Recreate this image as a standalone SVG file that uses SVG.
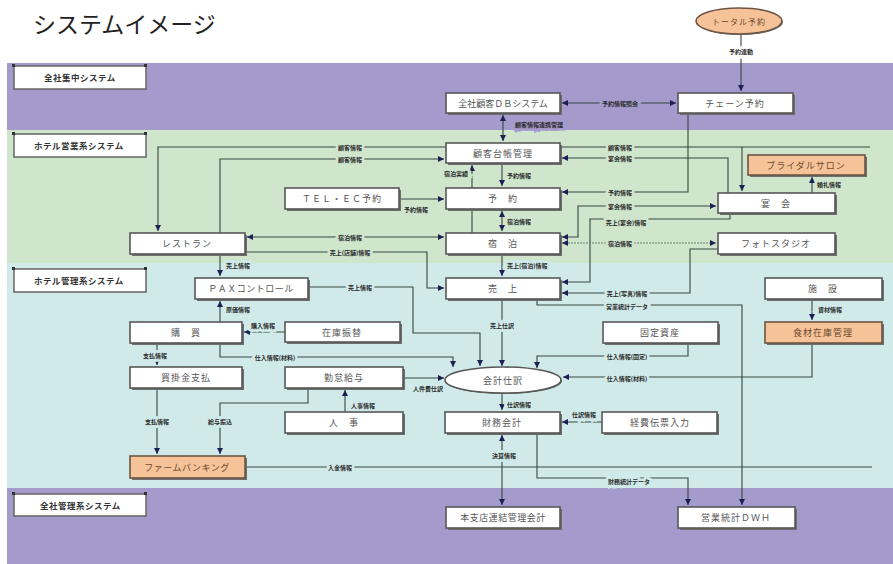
<svg xmlns="http://www.w3.org/2000/svg" width="893" height="564" viewBox="0 0 893 564">
<style>
.bp{fill:#a49acb}.bg{fill:#cfe6cd}.bc{fill:#d0eae9}
.title{font-family:"Noto Sans CJK JP","Noto Sans",sans-serif;font-size:23px;fill:#222}
.bl rect.b{fill:#fff;stroke:#666;stroke-width:1.5}
.bl rect.m{fill:#333}
.bl text{font-family:"Noto Sans CJK JP",sans-serif;font-size:8.5px;font-weight:bold;fill:#333;letter-spacing:0.5px}
.node rect.s,.node ellipse.s{fill:#6e6e6e}
.node rect.f,.node ellipse.f{fill:#fff;stroke:#575757;stroke-width:1.6}
.node.or rect.f,.node.or ellipse.f{fill:#f6c297;stroke:#6b5545}
.node text{font-family:"Noto Sans CJK JP",sans-serif;font-size:9px;fill:#555;text-anchor:middle;dominant-baseline:central;letter-spacing:1px}
.conn path{fill:none;stroke:#364640;stroke-width:1.1}
.conn path.d{stroke:#6c8070;stroke-dasharray:2 1}
.lbl{font-family:"Noto Sans CJK JP",sans-serif;font-size:6px;font-weight:bold;fill:#2a2a2a;text-anchor:middle;dominant-baseline:central;paint-order:stroke;stroke-width:5px}
.lg{stroke:#cfe6cd}.lc{stroke:#d0eae9}.lp{stroke:#a49acb}.lw{stroke:#fff}
.st{text-anchor:start}.en{text-anchor:end}
</style>
<defs>
<marker id="ah" viewBox="0 0 6 6" refX="6" refY="3" markerWidth="6" markerHeight="6" markerUnits="userSpaceOnUse" orient="auto-start-reverse">
<path d="M0,0 L6,3 L0,6 z" fill="#1d1f55"/>
</marker>
</defs>

<text class="title" x="33" y="33">システムイメージ</text>

<g id="bands">
<rect class="bp" x="7" y="63" width="886" height="67"/>
<rect class="bg" x="7" y="130" width="886" height="133"/>
<rect class="bc" x="7" y="263" width="886" height="225"/>
<rect class="bp" x="7" y="488" width="886" height="76"/>
</g>

<g id="band-labels" class="bl">
<g id="bl1"><rect class="b" x="14" y="66" width="132" height="23"/><rect class="m" x="12" y="64" width="3" height="3"/><rect class="m" x="144" y="64" width="3" height="3"/><text x="44" y="81">全社集中システム</text></g>
<g id="bl2"><rect class="b" x="14" y="134" width="132" height="23"/><rect class="m" x="12" y="132" width="3" height="3"/><rect class="m" x="144" y="132" width="3" height="3"/><text x="34" y="149">ホテル営業系システム</text></g>
<g id="bl3"><rect class="b" x="14" y="269" width="132" height="23"/><rect class="m" x="12" y="267" width="3" height="3"/><rect class="m" x="144" y="267" width="3" height="3"/><text x="34" y="284">ホテル管理系システム</text></g>
<g id="bl4"><rect class="b" x="14" y="494" width="132" height="22"/><rect class="m" x="12" y="492" width="3" height="3"/><rect class="m" x="144" y="492" width="3" height="3"/><text x="40" y="509">全社管理系システム</text></g>
</g>

<g id="connectors" class="conn">
<path d="M741,35 V91" marker-end="url(#ah)"/>
<path d="M562,103 H676" marker-start="url(#ah)" marker-end="url(#ah)"/>
<path d="M503,115 V141" marker-start="url(#ah)" marker-end="url(#ah)"/>
<path d="M446,147 H158 V231" marker-end="url(#ah)"/>
<path d="M220,233 V159 H444" marker-end="url(#ah)"/>
<path d="M400,199 H444" marker-end="url(#ah)"/>
<path d="M502,163 V186" marker-end="url(#ah)"/>
<path d="M472,233 V165" marker-end="url(#ah)"/>
<path d="M502,211 V231" marker-start="url(#ah)" marker-end="url(#ah)"/>
<path d="M247,237 H444" marker-start="url(#ah)" marker-end="url(#ah)"/>
<path d="M246,252 H427 V288 H444" marker-end="url(#ah)"/>
<path d="M562,147 H870 M742,147 V191" marker-end="url(#ah)"/>
<path d="M728,193 V158 H562" marker-end="url(#ah)"/>
<path d="M688,113 V192 H562" marker-end="url(#ah)"/>
<path d="M562,237 H578 V206 H716" marker-start="url(#ah)" marker-end="url(#ah)"/>
<path d="M730,213 V219 H590 V282 H562" marker-end="url(#ah)"/>
<path d="M812,193 V177" marker-end="url(#ah)"/>
<path class="d" d="M562,243 H716" marker-start="url(#ah)" marker-end="url(#ah)"/>
<path d="M718,249 H690 V293 H562" marker-end="url(#ah)"/>
<path d="M502,254 V276" marker-end="url(#ah)"/>
<path d="M220,254 V276" marker-end="url(#ah)"/>
<path d="M309,287 H413 V333 H480 V366" marker-end="url(#ah)"/>
<path d="M220,322 V301" marker-end="url(#ah)"/>
<path d="M285,332 H244" marker-end="url(#ah)"/>
<path d="M220,343 V357 H453 V367" marker-end="url(#ah)"/>
<path d="M157,343 V365" marker-end="url(#ah)"/>
<path d="M157,388 V454" marker-end="url(#ah)"/>
<path d="M308,388 V403 H220 V454" marker-end="url(#ah)"/>
<path d="M345,412 V390" marker-end="url(#ah)"/>
<path d="M404,378 H444" marker-end="url(#ah)"/>
<path d="M502,300 V366" marker-end="url(#ah)"/>
<path d="M537,300 V305 H742 V505" marker-end="url(#ah)"/>
<path d="M688,343 V356 H537 V368" marker-end="url(#ah)"/>
<path d="M812,343 V377 H563" marker-end="url(#ah)"/>
<path d="M812,300 V320" marker-end="url(#ah)"/>
<path d="M502,393 V410" marker-end="url(#ah)"/>
<path d="M602,422 H562" marker-end="url(#ah)"/>
<path d="M502,435 V505" marker-start="url(#ah)" marker-end="url(#ah)"/>
<path d="M537,433 V478 H688 V505" marker-end="url(#ah)"/>
<path d="M245,467 H872"/>
</g>

<g id="connector-labels">
<text class="lbl lw" x="741" y="51">予約連動</text>
<text class="lbl lp" x="620" y="103">予約情報照会</text>
<text class="lbl lp st" x="515" y="124">顧客情報連携管理</text>
<text class="lbl lg" x="350" y="147">顧客情報</text>
<text class="lbl lg" x="350" y="159">顧客情報</text>
<text class="lbl lg" x="416" y="209">予約情報</text>
<text class="lbl lg st" x="507" y="175">予約情報</text>
<text class="lbl lg en" x="468" y="173">宿泊実績</text>
<text class="lbl lg st" x="507" y="221">宿泊情報</text>
<text class="lbl lg" x="350" y="237">宿泊情報</text>
<text class="lbl lg" x="350" y="252">売上(店舗)情報</text>
<text class="lbl lg" x="620" y="147">顧客情報</text>
<text class="lbl lg" x="620" y="158">宴会情報</text>
<text class="lbl lg" x="620" y="192">予約情報</text>
<text class="lbl lg" x="620" y="206">宴会情報</text>
<text class="lbl lg" x="626" y="222">売上(宴会)情報</text>
<text class="lbl lg st" x="817" y="184">婚礼情報</text>
<text class="lbl lg" x="620" y="243">宿泊情報</text>
<text class="lbl lc" x="627" y="293">売上(写真)情報</text>
<text class="lbl lc st" x="507" y="265">売上(宿泊)情報</text>
<text class="lbl lc st" x="226" y="265">売上情報</text>
<text class="lbl lc" x="360" y="287">売上情報</text>
<text class="lbl lc st" x="226" y="309">原価情報</text>
<text class="lbl lc" x="263" y="325">購入情報</text>
<text class="lbl lc" x="275" y="357">仕入情報(材料)</text>
<text class="lbl lc" x="155" y="355">支払情報</text>
<text class="lbl lc" x="157" y="421">支払情報</text>
<text class="lbl lc" x="220" y="421">給与振込</text>
<text class="lbl lc st" x="351" y="405">人事情報</text>
<text class="lbl lc" x="428" y="388">人件費仕訳</text>
<text class="lbl lc" x="502" y="325">売上仕訳</text>
<text class="lbl lc" x="627" y="306">営業統計データ</text>
<text class="lbl lc" x="627" y="356">仕入情報(固定)</text>
<text class="lbl lc" x="627" y="378">仕入情報(材料)</text>
<text class="lbl lc st" x="818" y="309">資材情報</text>
<text class="lbl lc st" x="507" y="404">仕訳情報</text>
<text class="lbl lc" x="584" y="414">仕訳情報</text>
<text class="lbl lc" x="504" y="455">決算情報</text>
<text class="lbl lc" x="629" y="481">財務統計データ</text>
<text class="lbl lc" x="340" y="467">入金情報</text>
</g>

<g id="n-total" class="node or"><ellipse class="s" cx="740" cy="22" rx="43" ry="13"/><ellipse class="f" cx="739" cy="21" rx="43" ry="13"/><text x="739" y="21" style="font-size:8px;fill:#6b4a30">トータル予約</text></g>
<g id="n-db" class="node"><rect class="s" x="448" y="95" width="114" height="20"/><rect class="f" x="446" y="93" width="114" height="20"/><text x="503" y="103" style="letter-spacing:0">全社顧客ＤＢシステム</text></g>
<g id="n-chain" class="node"><rect class="s" x="680" y="95" width="115" height="20"/><rect class="f" x="678" y="93" width="115" height="20"/><text x="735" y="103">チェーン予約</text></g>
<g id="n-kokyaku" class="node"><rect class="s" x="448" y="145" width="114" height="20"/><rect class="f" x="446" y="143" width="114" height="20"/><text x="503" y="153">顧客台帳管理</text></g>
<g id="n-tel" class="node"><rect class="s" x="287" y="190" width="114" height="21"/><rect class="f" x="285" y="188" width="114" height="21"/><text x="342" y="198.5">ＴＥＬ・ＥＣ予約</text></g>
<g id="n-yoyaku" class="node"><rect class="s" x="448" y="190" width="114" height="21"/><rect class="f" x="446" y="188" width="114" height="21"/><text x="503" y="198.5">予　約</text></g>
<g id="n-shuku" class="node"><rect class="s" x="448" y="235" width="114" height="21"/><rect class="f" x="446" y="233" width="114" height="21"/><text x="503" y="243.5">宿　泊</text></g>
<g id="n-rest" class="node"><rect class="s" x="132" y="235" width="115" height="21"/><rect class="f" x="130" y="233" width="115" height="21"/><text x="187" y="243.5">レストラン</text></g>
<g id="n-bridal" class="node or"><rect class="s" x="750" y="157" width="117" height="20"/><rect class="f" x="748" y="155" width="117" height="20"/><text x="806" y="165" style="fill:#6b4a30">ブライダルサロン</text></g>
<g id="n-enkai" class="node"><rect class="s" x="720" y="195" width="117" height="20"/><rect class="f" x="718" y="193" width="117" height="20"/><text x="776" y="203">宴　会</text></g>
<g id="n-photo" class="node"><rect class="s" x="720" y="235" width="117" height="21"/><rect class="f" x="718" y="233" width="117" height="21"/><text x="776" y="243.5">フォトスタジオ</text></g>
<g id="n-pax" class="node"><rect class="s" x="197" y="280" width="113" height="21"/><rect class="f" x="195" y="278" width="113" height="21"/><text x="251" y="288.5" style="letter-spacing:0.5px">ＰＡＸコントロール</text></g>
<g id="n-uriage" class="node"><rect class="s" x="448" y="280" width="114" height="21"/><rect class="f" x="446" y="278" width="114" height="21"/><text x="503" y="288.5">売　上</text></g>
<g id="n-shisetsu" class="node"><rect class="s" x="767" y="280" width="117" height="21"/><rect class="f" x="765" y="278" width="117" height="21"/><text x="823" y="288.5">施　設</text></g>
<g id="n-zaiko" class="node or"><rect class="s" x="767" y="324" width="117" height="21"/><rect class="f" x="765" y="322" width="117" height="21"/><text x="823" y="332.5" style="fill:#6b4a30">食材在庫管理</text></g>
<g id="n-kobai" class="node"><rect class="s" x="132" y="324" width="112" height="21"/><rect class="f" x="130" y="322" width="112" height="21"/><text x="186" y="332.5">購　買</text></g>
<g id="n-furikae" class="node"><rect class="s" x="287" y="324" width="115" height="20"/><rect class="f" x="285" y="322" width="115" height="20"/><text x="342" y="332">在庫振替</text></g>
<g id="n-kotei" class="node"><rect class="s" x="605" y="324" width="115" height="21"/><rect class="f" x="603" y="322" width="115" height="21"/><text x="660" y="332.5">固定資産</text></g>
<g id="n-kaikake" class="node"><rect class="s" x="132" y="369" width="112" height="21"/><rect class="f" x="130" y="367" width="112" height="21"/><text x="186" y="377.5">買掛金支払</text></g>
<g id="n-kintai" class="node"><rect class="s" x="287" y="369" width="118" height="21"/><rect class="f" x="285" y="367" width="118" height="21"/><text x="344" y="377.5">勤怠給与</text></g>
<g id="n-kaikei" class="node"><ellipse class="s" cx="504" cy="381" rx="58" ry="13"/><ellipse class="f" cx="503" cy="380" rx="58" ry="13"/><text x="503" y="380">会計仕訳</text></g>
<g id="n-jinji" class="node"><rect class="s" x="287" y="414" width="118" height="21"/><rect class="f" x="285" y="412" width="118" height="21"/><text x="344" y="422.5">人　事</text></g>
<g id="n-zaimu" class="node"><rect class="s" x="447" y="414" width="115" height="21"/><rect class="f" x="445" y="412" width="115" height="21"/><text x="502" y="422.5">財務会計</text></g>
<g id="n-keihi" class="node"><rect class="s" x="604" y="414" width="115" height="21"/><rect class="f" x="602" y="412" width="115" height="21"/><text x="660" y="422.5">経費伝票入力</text></g>
<g id="n-fb" class="node or"><rect class="s" x="132" y="458" width="115" height="22"/><rect class="f" x="130" y="456" width="115" height="22"/><text x="187" y="467" style="fill:#6b4a30;letter-spacing:0.5px">ファームバンキング</text></g>
<g id="n-honshiten" class="node"><rect class="s" x="448" y="509" width="114" height="21"/><rect class="f" x="446" y="507" width="114" height="21"/><text x="503" y="517.5" style="letter-spacing:0.5px">本支店連結管理会計</text></g>
<g id="n-dwh" class="node"><rect class="s" x="680" y="509" width="117" height="21"/><rect class="f" x="678" y="507" width="117" height="21"/><text x="736" y="517.5">営業統計ＤＷＨ</text></g>
</svg>
